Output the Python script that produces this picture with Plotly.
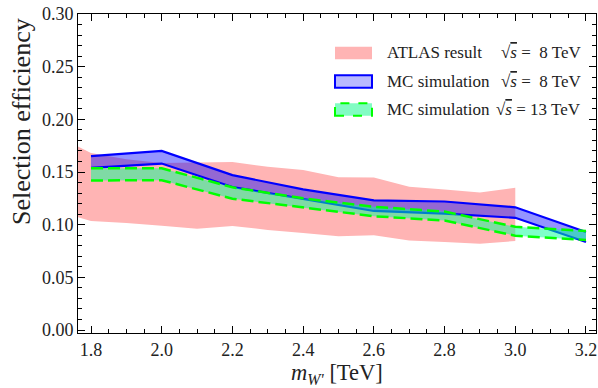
import plotly.graph_objects as go

# ATLAS result (8 TeV) band
atlas_x = [1.7, 1.8, 1.9, 2.0, 2.1, 2.2, 2.3, 2.4, 2.5, 2.6, 2.7, 2.8, 2.9, 3.0]
atlas_hi = [0.185, 0.168, 0.162, 0.1585, 0.159, 0.1595, 0.155, 0.152, 0.145, 0.1447, 0.136, 0.1335, 0.1306, 0.135]
atlas_lo = [0.113, 0.1035, 0.1015, 0.099, 0.0962, 0.0988, 0.095, 0.092, 0.089, 0.090, 0.085, 0.0835, 0.082, 0.0845]

# MC simulation bands
mass = [1.8, 2.0, 2.2, 2.4, 2.6, 2.8, 3.0, 3.2]
mc8_hi = [0.165, 0.170, 0.147, 0.1335, 0.123, 0.122, 0.1165, 0.093]
mc8_lo = [0.154, 0.158, 0.1358, 0.1245, 0.113, 0.1105, 0.1065, 0.0835]
mc13_hi = [0.1535, 0.1535, 0.1355, 0.125, 0.117, 0.1124, 0.098, 0.094]
mc13_lo = [0.142, 0.1422, 0.1247, 0.116, 0.108, 0.104, 0.0895, 0.0855]

x_ticks = [1.8, 2.0, 2.2, 2.4, 2.6, 2.8, 3.0, 3.2]
y_ticks = [0.00, 0.05, 0.10, 0.15, 0.20, 0.25, 0.30]

PINK = "rgb(255,180,180)"
BLUE_FILL = "rgba(0,0,255,0.42)"
GREEN_FILL = "rgba(0,255,150,0.5)"
FONT = "Times New Roman, Liberation Serif, DejaVu Serif, serif"

fig = go.Figure()

def band(xs, hi, lo, fill, name):
    fig.add_trace(go.Scatter(
        x=list(xs) + list(xs)[::-1], y=list(hi) + list(lo)[::-1],
        fill="toself", fillcolor=fill, mode="none", line=dict(width=0),
        hoverinfo="skip", showlegend=False, name=name))

band(atlas_x, atlas_hi, atlas_lo, PINK, "ATLAS")

band(mass, mc8_hi, mc8_lo, BLUE_FILL, "MC8")
for ys in (mc8_hi, mc8_lo):
    fig.add_trace(go.Scatter(x=mass, y=ys, mode="lines",
                             line=dict(color="rgb(0,0,255)", width=2.2),
                             showlegend=False, hoverinfo="skip"))

band(mass, mc13_hi, mc13_lo, GREEN_FILL, "MC13")
for ys in (mc13_hi, mc13_lo):
    fig.add_trace(go.Scatter(x=mass, y=ys, mode="lines",
                             line=dict(color="rgb(0,255,0)", width=2.5, dash="12px,5px"),
                             showlegend=False, hoverinfo="skip"))

# plot area geometry in pixels (for legend placement)
L, R, T, B = 78, 596, 14, 333
def px(xp):
    return (xp - L) / (R - L)
def py(yp):
    return (B - yp) / (B - T)

SQRT_S = "√<span style='text-decoration:overline'><i>s</i></span>"

shapes = []
annotations = []
legend_items = [
    (PINK, None, None, "ATLAS result", SQRT_S + " =  8 TeV", 53),
    ("rgba(185,185,255,1)", "rgb(0,0,255)", "solid", "MC simulation", SQRT_S + " =  8 TeV", 81.5),
    ("rgba(130,252,195,1)", "rgb(0,255,0)", "dash", "MC simulation", SQRT_S + " = 13 TeV", 109.5),
]
for fillc, linec, dash, t1, t2, yc in legend_items:
    shp = dict(type="rect", xref="paper", yref="paper",
               x0=px(335), x1=px(372), y0=py(yc + 6.2), y1=py(yc - 6.2),
               fillcolor=fillc, layer="above")
    if linec:
        shp["line"] = dict(color=linec, width=2, dash=dash)
    else:
        shp["line"] = dict(width=0)
    shapes.append(shp)
    annotations.append(dict(xref="paper", yref="paper", x=px(385), y=py(yc),
                            xanchor="left", yanchor="middle", text=t1, showarrow=False,
                            font=dict(family=FONT, size=17, color="#222")))
    annotations.append(dict(xref="paper", yref="paper", x=px(583), y=py(yc),
                            xanchor="right", yanchor="middle", text=t2, showarrow=False,
                            font=dict(family=FONT, size=17, color="#222")))

# axis titles
annotations.append(dict(xref="paper", yref="paper", x=px(337), y=py(374),
                        xanchor="center", yanchor="middle",
                        text="<i>m</i><sub><i>W'</i></sub> [TeV]", showarrow=False,
                        font=dict(family=FONT, size=22.5, color="#222")))
annotations.append(dict(xref="paper", yref="paper", x=px(21), y=py(122),
                        xanchor="center", yanchor="middle", textangle=-90,
                        text="Selection efficiency", showarrow=False,
                        font=dict(family=FONT, size=26, color="#222")))

axis_common = dict(showline=True, linecolor="black", linewidth=1, mirror="allticks",
                   ticks="inside", ticklen=7, tickwidth=1, tickcolor="black",
                   showgrid=False, zeroline=False,
                   tickfont=dict(family=FONT, size=18, color="#222"))

fig.update_layout(
    width=598, height=388,
    margin=dict(l=L, r=598 - R, t=T, b=388 - B),
    paper_bgcolor="white", plot_bgcolor="white",
    showlegend=False,
    font=dict(family=FONT),
    shapes=shapes, annotations=annotations,
    xaxis=dict(range=[1.7632, 3.2283], tickvals=x_ticks,
               ticktext=[f"{v:.1f}" for v in x_ticks],
               minor=dict(dtick=0.05, tick0=1.8, ticks="inside", ticklen=4, tickcolor="black"),
               **axis_common),
    yaxis=dict(range=[-0.00285, 0.30], tickvals=y_ticks,
               ticktext=[f"{v:.2f}" for v in y_ticks],
               minor=dict(dtick=0.01, tick0=0, ticks="inside", ticklen=4, tickcolor="black"),
               **axis_common),
)

fig.write_html("out.html")
